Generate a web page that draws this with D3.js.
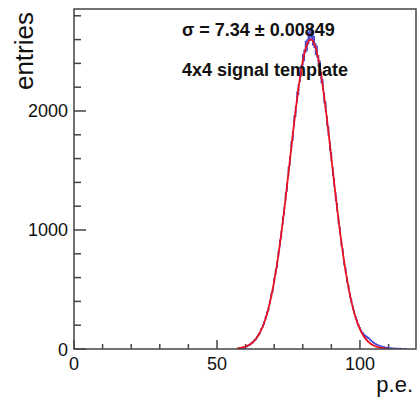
<!DOCTYPE html>
<html><head><meta charset="utf-8">
<script src="https://cdn.jsdelivr.net/npm/d3@7"></script>
<style>body{margin:0;background:#fff}svg{display:block}text{font-family:"Liberation Sans",Arial,Helvetica,sans-serif}</style>
</head><body><div id="c"></div>
<script>
// Histogram: bin centers start at histStart, spaced histStep (p.e.)
const histStart = 58, histStep = 0.5;
const histCounts = [5,7,9,12,18,22,30,36,47,55,70,80,99,120,135,165,192,218,262,300,
 335,395,452,498,575,648,708,803,890,962,1080,1158,1282,1360,1495,1580,1706,1790,1918,1995,
 2118,2180,2290,2340,2430,2468,2540,2552,2610,2640,2660,2600,2580,2520,2500,2420,2375,2280,2220,2110,
 2035,1915,1830,1705,1615,1492,1400,1280,1192,1080,995,892,818,725,660,578,522,452,405,348,
 310,262,232,198,172,150,132,118,108,98,92,80,70,58,50,42,36,30,26,22,
 18,16,13,11,9,8,7,6,5,4,4,3,3,2,2,2,1];
// Gaussian fit curve sampled values, starting at fitStart with step fitStep
const fitStart = 57, fitStep = 0.5;
const fitValues = [5,7,9,11,14,17,21,26,32,39,47,57,68,82,98,116,137,162,189,221,
 256,296,341,390,444,504,568,639,714,795,881,971,1067,1165,1267,1372,1478,1586,1693,1799,
 1903,2003,2100,2190,2274,2350,2417,2475,2523,2559,2585,2598,2599,2588,2565,2531,2486,2430,2364,2290,
 2207,2118,2023,1923,1820,1714,1607,1500,1393,1288,1185,1086,990,899,812,730,653,582,516,455,
 400,350,305,264,228,196,167,142,120,101,85,71,59,49,40,33,27,22,18,14,
 11,9,7,6,4,3,3];
const xTicksMajor = [0,50,100];
const yTicksMajor = [0,1000,2000];
const xLabel = "p.e.", yLabel = "entries";
const textLines = ["σ = 7.34 ± 0.00849", "4x4 signal template"];

const W = 417, H = 400;
const L = 74, R = 416, T = 9, B = 349;
const svg = d3.select("#c").append("svg").attr("width", W).attr("height", H);
const x = d3.scaleLinear().domain([0, 119.6]).range([L, R]);
const y = d3.scaleLinear().domain([0, 2857]).range([B, T]);

const axisCol = "#444";

// x ticks (inward)
const gx = svg.append("g").attr("transform", `translate(0,${B})`);
gx.selectAll("line").data(d3.range(0, 120, 10)).join("line")
  .attr("x1", d => x(d)).attr("x2", d => x(d)).attr("y1", 0)
  .attr("y2", d => xTicksMajor.includes(d) ? -9 : -5)
  .attr("stroke", axisCol).attr("stroke-width", 1.5);
gx.selectAll("text").data(xTicksMajor).join("text")
  .attr("x", d => x(d)).attr("y", 21).attr("text-anchor", "middle")
  .attr("font-size", 18).attr("fill", "#111").text(d => d);

// y ticks (inward)
const gy = svg.append("g").attr("transform", `translate(${L},0)`);
gy.selectAll("line").data(d3.range(0, 2801, 200)).join("line")
  .attr("y1", d => y(d)).attr("y2", d => y(d)).attr("x1", 0)
  .attr("x2", d => yTicksMajor.includes(d) ? 12 : 7)
  .attr("stroke", axisCol).attr("stroke-width", 1.5);
gy.selectAll("text").data(yTicksMajor).join("text")
  .attr("x", -6).attr("y", d => y(d) + 6.5).attr("text-anchor", "end")
  .attr("font-size", 18).attr("fill", "#111").text(d => d);

// Axis titles
svg.append("text").attr("x", 413).attr("y", 392).attr("text-anchor", "end")
  .attr("font-size", 22).attr("fill", "#111").text(xLabel);
svg.append("text").attr("transform", "translate(33,12) rotate(-90)").attr("text-anchor", "end")
  .attr("font-size", 26).attr("fill", "#111").text(yLabel);

// Histogram with error bars
svg.append("clipPath").attr("id", "cp").append("rect")
  .attr("x", L).attr("y", T).attr("width", R - L).attr("height", B - T);
const hist = histCounts.map((v, i) => ({c: histStart + i * histStep, v}));
const gh = svg.append("g").attr("clip-path", "url(#cp)").attr("stroke", "#4545d8").attr("stroke-width", 1.6);
gh.selectAll("line.h").data(hist).join("line").attr("class", "h")
  .attr("x1", d => x(d.c - histStep / 2)).attr("x2", d => x(d.c + histStep / 2))
  .attr("y1", d => y(d.v)).attr("y2", d => y(d.v));
gh.selectAll("line.e").data(hist).join("line").attr("class", "e")
  .attr("x1", d => x(d.c)).attr("x2", d => x(d.c))
  .attr("y1", d => y(d.v + Math.sqrt(d.v))).attr("y2", d => y(Math.max(0, d.v - Math.sqrt(d.v))));

// Fit curve
const fit = fitValues.map((v, i) => [fitStart + i * fitStep, v]);
svg.append("path").attr("clip-path", "url(#cp)").datum(fit)
  .attr("d", d3.line().x(d => x(d[0])).y(d => y(d[1])).curve(d3.curveMonotoneX))
  .attr("fill", "none").attr("stroke", "#e8131f").attr("stroke-width", 1.8);

// Frame
svg.append("rect").attr("x", L).attr("y", T).attr("width", R - L).attr("height", B - T)
  .attr("fill", "none").attr("stroke", axisCol).attr("stroke-width", 1.5);

// Annotation
svg.selectAll("text.ann").data(textLines).join("text").attr("class", "ann")
  .attr("x", 182).attr("y", (d, i) => i === 0 ? 36 : 76)
  .attr("font-size", 18).attr("font-weight", "bold").attr("fill", "#111").text(d => d);
</script></body></html>
